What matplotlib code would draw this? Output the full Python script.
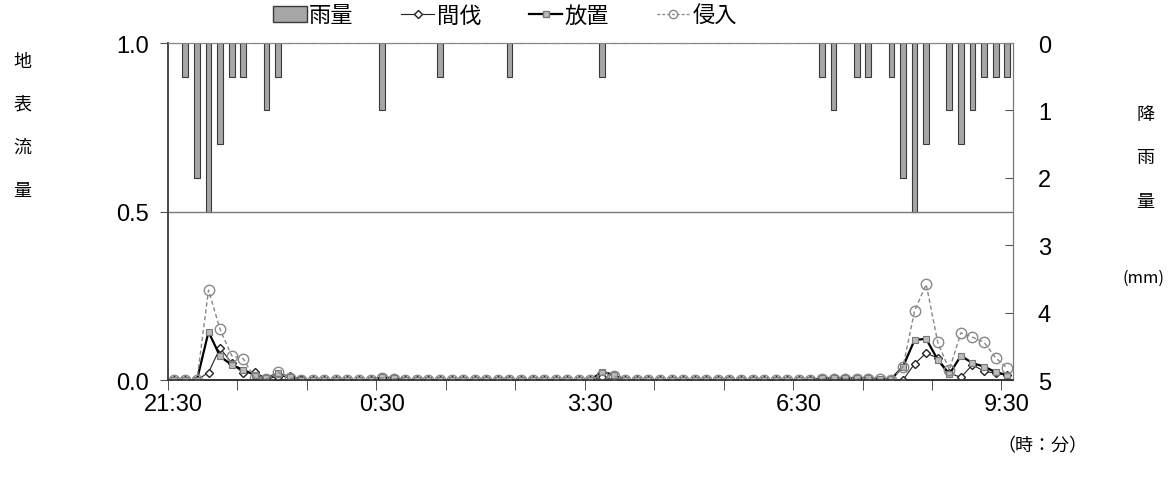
import numpy as np
import matplotlib
matplotlib.use("Agg")
import matplotlib.pyplot as plt
from matplotlib.lines import Line2D
from matplotlib.patches import Patch

plt.rcParams['font.family'] = ['Liberation Sans', 'Noto Sans CJK JP']

# 10-minute steps from 21:30 to 9:30 (73 categories)
tick_pos = [0, 18, 36, 54, 72]
tick_labels = ["21:30", "0:30", "3:30", "6:30", "9:30"]

# rainfall per 10 min (mm)
rain = [0, 0.5, 2.0, 2.5, 1.5, 0.5, 0.5, 0, 1.0, 0.5, 0, 0,
        0, 0, 0, 0, 0, 0, 1.0, 0, 0, 0, 0, 0.5,
        0, 0, 0, 0, 0, 0.5, 0, 0, 0, 0, 0, 0,
        0, 0.5, 0, 0, 0, 0, 0, 0, 0, 0, 0, 0,
        0, 0, 0, 0, 0, 0, 0, 0, 0.5, 1.0, 0, 0.5,
        0.5, 0, 0.5, 2.0, 2.5, 1.5, 0, 1.0, 1.5, 1.0, 0.5, 0.5,
        0.5]

# surface runoff
thinned = [0, 0, 0, 0.022, 0.095, 0.05, 0.02, 0.023, 0.005, 0.01, 0.012, 0.003,
           0, 0, 0, 0, 0, 0, 0.003, 0, 0, 0, 0, 0,
           0, 0, 0, 0, 0, 0, 0, 0, 0, 0, 0, 0,
           0, 0.008, 0.003, 0, 0, 0, 0, 0, 0, 0, 0, 0,
           0, 0, 0, 0, 0, 0, 0, 0, 0, 0, 0, 0,
           0, 0, 0, 0, 0.048, 0.08, 0.065, 0.02, 0.008, 0.045, 0.026, 0.02,
           0.015]
abandoned = [0, 0, 0, 0.143, 0.07, 0.045, 0.03, 0.015, 0.005, 0.02, 0.008, 0,
             0, 0, 0, 0, 0, 0, 0.008, 0.005, 0, 0, 0, 0,
             0, 0, 0, 0, 0, 0, 0, 0, 0, 0, 0, 0,
             0, 0.025, 0.015, 0, 0, 0, 0, 0, 0, 0, 0, 0,
             0, 0, 0, 0, 0, 0, 0, 0, 0.005, 0.005, 0.005, 0.005,
             0.005, 0.003, 0.003, 0.04, 0.119, 0.122, 0.06, 0.017, 0.072, 0.05, 0.04, 0.023,
             0.015]
invaded = [0, 0, 0, 0.267, 0.15, 0.072, 0.063, 0.005, 0.003, 0.024, 0.006, 0,
           0, 0, 0, 0, 0, 0, 0.006, 0.004, 0, 0, 0, 0,
           0, 0, 0, 0, 0, 0, 0, 0, 0, 0, 0, 0,
           0, 0.015, 0.012, 0, 0, 0, 0, 0, 0, 0, 0, 0,
           0, 0, 0, 0, 0, 0, 0, 0, 0.003, 0.003, 0.003, 0.003,
           0.003, 0.002, 0, 0.04, 0.205, 0.284, 0.112, 0.03, 0.14, 0.127, 0.112, 0.066,
           0.035]

x = np.arange(len(rain))

fig = plt.figure(figsize=(11.7, 4.81), dpi=100)
ax = fig.add_axes([0.1436, 0.2079, 0.7222, 0.7006])
ax2 = ax.twinx()

# rain bars hanging from the top (right axis, inverted)
ax2.bar(x, rain, width=0.5, color="#a6a6a6", edgecolor="#3a3a3a", linewidth=0.8)
ax2.set_ylim(5, 0)
ax2.set_yticks([0, 1, 2, 3, 4, 5])
ax2.tick_params(axis="y", direction="in", length=6, labelsize=17, pad=18,
                color="#555555")

# runoff lines on top
ax.set_zorder(ax2.get_zorder() + 1)
ax.patch.set_visible(False)
ax.plot(x, thinned, color="#222222", lw=0.8, marker="D", ms=4,
        mfc="white", mec="#222222", mew=1.0)
ax.plot(x, abandoned, color="black", lw=1.6, marker="s", ms=4,
        mfc="#bbbbbb", mec="#777777", mew=0.8)
ax.plot(x, invaded, color="#888888", lw=1.0, ls=(0, (3, 2)), marker="o", ms=7.5,
        mfc="none", mec="#888888", mew=1.0)

ax.set_xlim(-0.5, 72.5)
ax.set_ylim(0, 1.0)
ax.set_yticks([0.0, 0.5, 1.0])
ax.set_yticklabels(["0.0", "0.5", "1.0"])
ax.axhline(0.5, color="#777777", lw=1.0)
ax.tick_params(axis="y", direction="out", length=6, labelsize=17, pad=8,
               color="#555555")

ax.set_xticks(tick_pos)
ax.set_xticklabels(tick_labels)
ax.set_xticks(np.arange(-0.5, 73, 6), minor=True)
ax.tick_params(axis="x", which="major", length=0, labelsize=17, pad=9)
ax.tick_params(axis="x", which="minor", length=7, direction="out", color="#333333")

for a in (ax, ax2):
    a.spines["top"].set_color("#888888")
    a.spines["right"].set_color("#777777")
    a.spines["left"].set_color("#444444")
    a.spines["bottom"].set_color("#333333")
    a.spines["left"].set_linewidth(1.2)
    a.spines["bottom"].set_linewidth(1.2)

# side labels
for i, ch in enumerate("地表流量"):
    fig.text(22 / 1170, 1 - (62 + 43 * i) / 481, ch, fontsize=13,
             ha="center", va="center", family="Noto Sans CJK JP")
for i, ch in enumerate("降雨量"):
    fig.text(1145 / 1170, 1 - (115 + 43.5 * i) / 481, ch, fontsize=13,
             ha="center", va="center", family="Noto Sans CJK JP")
fig.text(1143 / 1170, 1 - 278 / 481, "(mm)", fontsize=12,
         ha="center", va="center", family="Noto Sans CJK JP")
fig.text(1042 / 1170, 1 - 446 / 481, "（時：分）", fontsize=13,
         ha="center", va="center", family="Noto Sans CJK JP")

handles = [
    Patch(facecolor="#a6a6a6", edgecolor="#3a3a3a"),
    Line2D([], [], color="#222222", lw=0.8, marker="D", ms=4, mfc="white", mec="#222222"),
    Line2D([], [], color="black", lw=1.6, marker="s", ms=4, mfc="#bbbbbb", mec="#777777"),
    Line2D([], [], color="#888888", lw=1.0, ls=(0, (2, 1.5)), marker="o", ms=6,
           mfc="none", mec="#888888"),
]
fig.legend(handles, ["雨量", "間伐", "放置", "侵入"], ncol=4, loc="center",
           bbox_to_anchor=(505 / 1170, 1 - 16 / 481), frameon=False,
           prop={"family": "Noto Sans CJK JP", "size": 16},
           handlelength=1.5, handletextpad=0.1, columnspacing=2.15)

fig.savefig("out.png", dpi=100)
